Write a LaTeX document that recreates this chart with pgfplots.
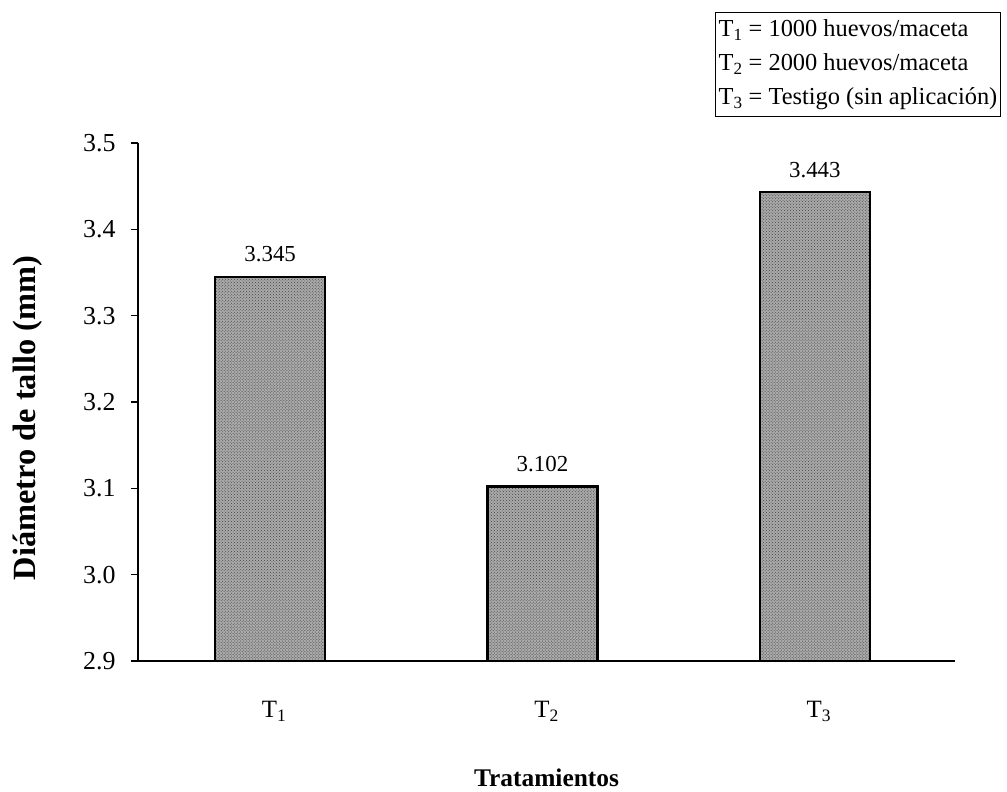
\documentclass[border=0pt]{standalone}
\usepackage{pgfplots}
\pgfplotsset{compat=1.18}
\usepackage{fontspec}
\setmainfont{Liberation Serif}
\usetikzlibrary{patterns}
\definecolor{barfill}{RGB}{170,170,170}
\begin{document}
\begin{tikzpicture}[x=1bp,y=1bp]
\path[use as bounding box] (0,0) rectangle (1007,792);
\begin{axis}[
  at={(138bp,131bp)}, anchor=south west,
  scale only axis, width=817bp, height=518bp,
  xmin=-0.5, xmax=2.5, ymin=2.9, ymax=3.5,
  axis x line*=bottom, axis y line*=left,
  axis line style={line width=1.3bp, black},
  xtick={0,1,2}, xticklabels={T\textsubscript{1},T\textsubscript{2},T\textsubscript{3}},
  major x tick style={draw=none},
  extra x ticks={0.5,1.5,2.5}, extra x tick labels={},
  extra x tick style={major tick length=9bp, tick style={line width=1.2bp,black}, tick align=outside},
  ytick={2.9,3.0,3.1,3.2,3.3,3.4,3.5},
  yticklabel style={/pgf/number format/fixed,/pgf/number format/fixed zerofill,/pgf/number format/precision=1},
  /pgf/number format/assume math mode=true,
  y tick style={line width=1.2bp,black},
  tick align=outside, major tick length=7bp,
  xticklabel style={font=\fontsize{25}{29}\selectfont, yshift=-30bp},
  yticklabel style={font=\fontsize{26}{30}\selectfont, xshift=-12bp},
  xlabel={\textbf{Tratamientos}},
  xlabel style={font=\fontsize{25.5}{30}\selectfont, yshift=-24bp},
  ylabel={\textbf{Diámetro de tallo (mm)}},
  ylabel style={font=\fontsize{32.5}{36}\selectfont, at={(axis description cs:-0.135,0.469)}, anchor=center, rotate=0},
  ybar, bar width=110bp, bar shift=-4bp,
  nodes near coords,
  every node near coord/.append style={font=\fontsize{23}{27}\selectfont, yshift=10bp, /pgf/number format/fixed, /pgf/number format/precision=3, /pgf/number format/fixed zerofill},
  clip=false,
]
\addplot[draw=black, line width=2.6bp, fill=barfill, postaction={pattern=crosshatch dots, pattern color=black!75}] coordinates {(0,3.345) (1,3.102) (2,3.443)};
\end{axis}
\node[draw=black, line width=1.3bp, anchor=north west, align=left, inner xsep=3bp, inner ysep=7bp, font=\fontsize{24.5}{34}\selectfont] at (715,780) {T\textsubscript{1} = 1000 huevos/maceta\\T\textsubscript{2} = 2000 huevos/maceta\\T\textsubscript{3} = Testigo (sin aplicación)};
\end{tikzpicture}
\end{document}
